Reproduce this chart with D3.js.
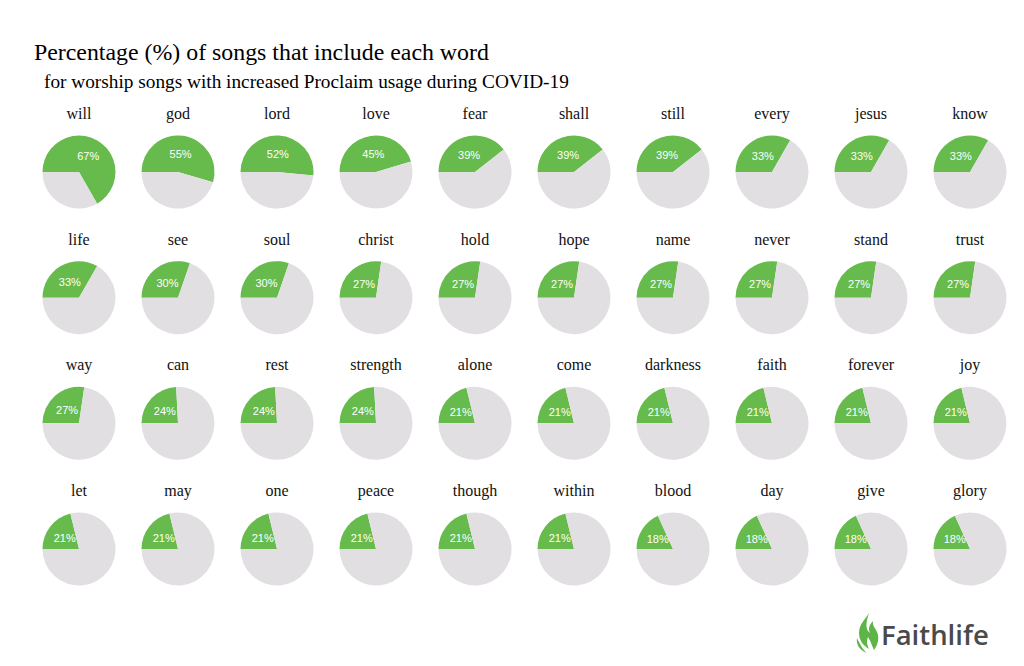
<!DOCTYPE html>
<html>
<head>
<meta charset="utf-8">
<script src="https://cdn.jsdelivr.net/npm/d3@7"></script>
<style>
  html, body { margin: 0; padding: 0; background: #ffffff; }
  svg { display: block; }
</style>
</head>
<body>
<svg id="chart" width="1024" height="666"></svg>
<script>
const words = [
  "will","god","lord","love","fear","shall","still","every","jesus","know",
  "life","see","soul","christ","hold","hope","name","never","stand","trust",
  "way","can","rest","strength","alone","come","darkness","faith","forever","joy",
  "let","may","one","peace","though","within","blood","day","give","glory"
];
const percents = [
  66.7,54.5,51.5,45.4,39.4,39.4,39.4,33.3,33.3,33.3,
  33.3,30.3,30.3,27.3,27.3,27.3,27.3,27.3,27.3,27.3,
  27.3,24.2,24.2,24.2,21.2,21.2,21.2,21.2,21.2,21.2,
  21.2,21.2,21.2,21.2,21.2,21.2,18.2,18.2,18.2,18.2
];
const titleText = "Percentage (%) of songs that include each word";
const subtitleText = "for worship songs with increased Proclaim usage during COVID-19";

const svg = d3.select("#chart");
const cols = 10;
const green = "#66bb4c", gray = "#e1dfe1";
const radius = 36.5;

const x = d3.scalePoint().domain(d3.range(cols)).range([79, 970]);
const y = d3.scalePoint().domain(d3.range(4)).range([172, 549]);

svg.append("text").attr("x", 34).attr("y", 60)
  .attr("font-family", "Liberation Serif, Times New Roman, serif")
  .attr("font-size", 23.85).attr("fill", "#000").text(titleText);
svg.append("text").attr("x", 44).attr("y", 88)
  .attr("font-family", "Liberation Serif, Times New Roman, serif")
  .attr("font-size", 19.3).attr("fill", "#000").text(subtitleText);

const arc = d3.arc().innerRadius(0).outerRadius(radius);
const pie = d3.pie().sort(null).value(d => d)
  .startAngle(-Math.PI / 2).endAngle(1.5 * Math.PI);

const cells = svg.selectAll("g.cell").data(words.map((w, i) => ({ w, p: percents[i], i })))
  .join("g").attr("class", "cell")
  .attr("transform", d => `translate(${x(d.i % cols)},${y(Math.floor(d.i / cols))})`);

cells.append("text").attr("x", 0).attr("y", -53)
  .attr("text-anchor", "middle")
  .attr("font-family", "Liberation Serif, Times New Roman, serif")
  .attr("font-size", 16).attr("fill", "#111").text(d => d.w);

cells.each(function(d) {
  const g = d3.select(this);
  const arcs = pie([d.p, 100 - d.p]);
  g.selectAll("path").data(arcs).join("path")
    .attr("d", arc)
    .attr("fill", (a, j) => j === 0 ? green : gray);
  const c = arc.centroid(arcs[0]);
  g.append("text").attr("x", c[0]).attr("y", c[1])
    .attr("text-anchor", "middle").attr("dominant-baseline", "central")
    .attr("font-family", "Liberation Sans, Arial, sans-serif")
    .attr("font-size", 11).attr("fill", "#ffffff")
    .text(Math.round(d.p) + "%");
});

// Logo
const logo = svg.append("g").attr("transform", "translate(855,613)");
logo.append("path")
  .attr("d", "M14,0 C10,7 4,11 4,20 C4,28 9,33 14,36 C12,32 11,28 13,24 C15,27 16,30 19,37 C22,33 24,28 23,22 C22,16 17,14 18,8 C14,12 13,16 15,20 C11,17 10,12 14,0 Z M2,25 C1,31 4,37 12,40 C7,36 5,31 2,25 Z")
  .attr("fill", "#5cb546");
logo.append("text").attr("x", 26).attr("y", 32)
  .attr("font-family", "Open Sans, Noto Sans, sans-serif")
  .attr("font-weight", 600).attr("font-size", 27.5).attr("fill", "#4a4a4a")
  .text("Faithlife");
</script>
</body>
</html>
